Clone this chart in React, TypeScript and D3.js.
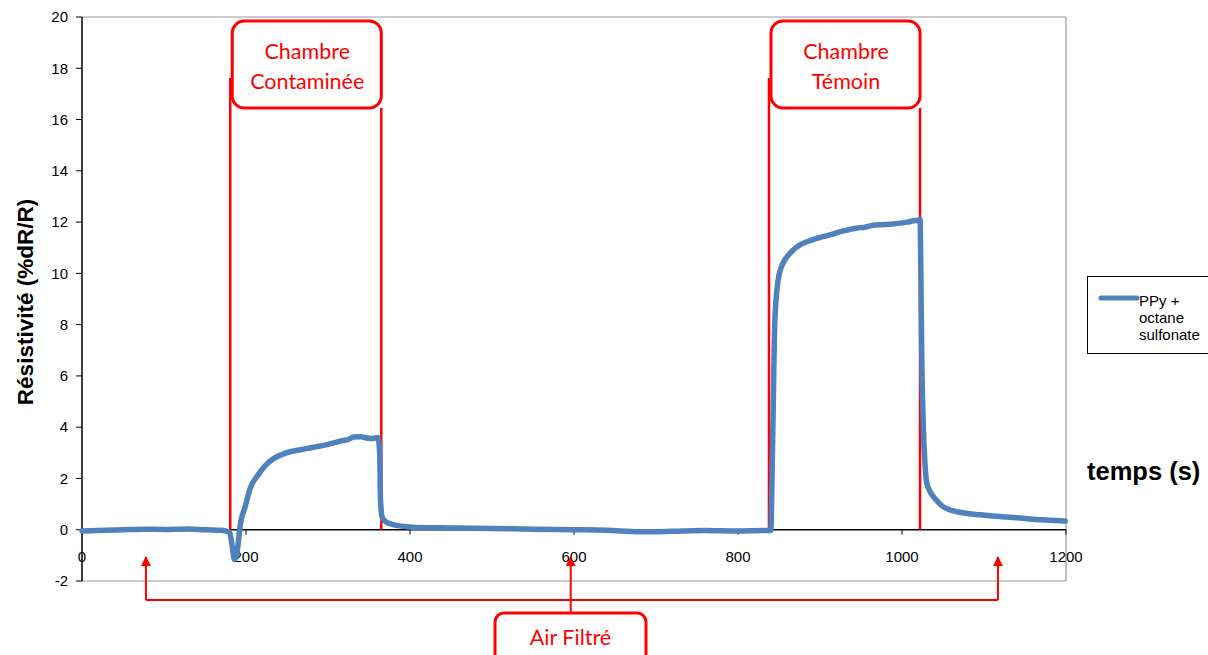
import React from "react";
import * as d3 from "d3";

const times = [0, 20, 50, 80, 100, 130, 150, 170, 180, 183, 186, 189, 193, 199, 205, 215, 225, 235, 245, 255, 266, 276, 286, 296, 306, 318, 325, 331, 340, 347, 355, 361, 363, 364, 366, 370, 375, 385, 396, 420, 449, 500, 550, 600, 640, 680, 720, 760, 800, 830, 840, 842, 845, 849, 855, 861, 867, 875, 884, 894, 904, 914, 924, 935, 945, 955, 965, 975, 985, 995, 1006, 1014, 1020, 1022, 1023, 1024, 1026, 1028, 1030, 1034, 1038, 1044, 1050, 1058, 1067, 1080, 1095, 1110, 1123, 1140, 1156, 1175, 1199];
const values = [-0.05, -0.03, 0.0, 0.02, 0.01, 0.03, 0.0, -0.02, -0.1, -0.6, -1.17, -0.9, 0.2, 0.9, 1.6, 2.15, 2.55, 2.8, 2.95, 3.05, 3.12, 3.18, 3.24, 3.3, 3.38, 3.48, 3.52, 3.62, 3.63, 3.58, 3.56, 3.6, 3.0, 1.2, 0.5, 0.32, 0.24, 0.16, 0.12, 0.08, 0.07, 0.05, 0.02, 0.0, -0.02, -0.08, -0.06, -0.03, -0.05, -0.03, -0.03, 3.0, 8.2, 9.75, 10.4, 10.7, 10.9, 11.1, 11.23, 11.35, 11.43, 11.52, 11.62, 11.7, 11.77, 11.8, 11.88, 11.9, 11.92, 11.95, 12.0, 12.05, 12.08, 12.1, 10.0, 7.0, 4.0, 2.6, 1.85, 1.5, 1.3, 1.08, 0.9, 0.78, 0.7, 0.63, 0.58, 0.54, 0.51, 0.47, 0.42, 0.38, 0.34];

const xTicks = [0, 200, 400, 600, 800, 1000, 1200];
const yTicks = [-2, 0, 2, 4, 6, 8, 10, 12, 14, 16, 18, 20];
const chambers = [
  { start: 182, end: 365, label: ["Chambre", "Contaminée"] },
  { start: 839, end: 1022, label: ["Chambre", "Témoin"] },
];
const airArrows = [78, 596, 1117];
const airLabel = "Air Filtré";
const seriesName = ["PPy +", "octane", "sulfonate"];

const W = 1208, H = 655;
const L = 82, R = 1066, T = 17, B = 581;

export default function App() {
  const x = d3.scaleLinear().domain([0, 1200]).range([L, R]);
  const y = d3.scaleLinear().domain([-2, 20]).range([B, T]);
  const data = times.map((t, i) => [t, values[i]] as [number, number]);
  const line = d3.line<[number, number]>().x(d => x(d[0])).y(d => y(d[1])).curve(d3.curveMonotoneX);
  const red = "#ff0000";
  const blue = "#4f81bd";
  const arrowY = 600;
  const redFont = "Lato, 'Open Sans', sans-serif";
  return (
    <svg width={W} height={H} style={{ position: "absolute", left: 0, top: 0 }} fontFamily="'Liberation Sans', Arial, sans-serif">
      <defs>
        <marker id="ah" viewBox="0 0 10 10" refX="9" refY="5" markerWidth="5" markerHeight="5" orient="auto">
          <path d="M0,0 L10,5 L0,10 z" fill={red} />
        </marker>
      </defs>
      <rect x={0} y={0} width={W} height={H} fill="#fff" />
      {/* plot border */}
      <line x1={L} x2={R} y1={T} y2={T} stroke="#999" strokeWidth={1.2} />
      <line x1={R} x2={R} y1={T} y2={B} stroke="#999" strokeWidth={1.2} />
      <line x1={L} x2={R} y1={B} y2={B} stroke="#999" strokeWidth={1.2} />
      {/* y axis */}
      <line x1={L} x2={L} y1={T} y2={B} stroke="#000" strokeWidth={1.5} />
      {yTicks.map(v => (
        <g key={v}>
          <line x1={L - 6} x2={L} y1={y(v)} y2={y(v)} stroke="#000" strokeWidth={1} />
          <text x={L - 14} y={y(v)} dy="0.35em" textAnchor="end" fontSize={15} fill="#000">{v}</text>
        </g>
      ))}
      {/* x axis at 0 */}
      <line x1={L} x2={R} y1={y(0)} y2={y(0)} stroke="#000" strokeWidth={1.5} />
      {xTicks.map(v => (
        <g key={v}>
          <line x1={x(v)} x2={x(v)} y1={y(0)} y2={y(0) + 5} stroke="#000" strokeWidth={1} />
          <text x={x(v)} y={y(0) + 27} dy="0.35em" textAnchor="middle" fontSize={15} fill="#000">{v}</text>
        </g>
      ))}
      {/* red chambers */}
      {chambers.map((c, i) => {
        const x1 = x(c.start), x2 = x(c.end);
        return (
          <g key={i}>
            <line x1={x1 - 1} x2={x1 - 1} y1={78} y2={y(0)} stroke={red} strokeWidth={2.5} />
            <line x1={x2} x2={x2} y1={108} y2={y(0)} stroke={red} strokeWidth={2.5} />
            <rect x={x1 + 1} y={21} width={x2 - x1 - 1} height={87} rx={12} fill="#fff" stroke={red} strokeWidth={3} />
            <text x={(x1 + x2) / 2 + 1} y={51} dy="0.35em" textAnchor="middle" fontSize={21.5} fill={red} fontFamily={redFont}>{c.label[0]}</text>
            <text x={(x1 + x2) / 2 + 1} y={81} dy="0.35em" textAnchor="middle" fontSize={21.5} fill={red} fontFamily={redFont}>{c.label[1]}</text>
          </g>
        );
      })}
      {/* data line */}
      <path d={line(data) || ""} fill="none" stroke={blue} strokeWidth={5.5} strokeLinejoin="round" strokeLinecap="round" />
      {/* air filtré arrows */}
      <line x1={x(airArrows[0])} x2={x(airArrows[2])} y1={arrowY} y2={arrowY} stroke={red} strokeWidth={2} />
      {airArrows.map((t, i) => (
        <line key={i} x1={x(t)} x2={x(t)} y1={i === 1 ? 614 : arrowY} y2={557} stroke={red} strokeWidth={2} markerEnd="url(#ah)" />
      ))}
      <rect x={495} y={613} width={151} height={52} rx={9} fill="#fff" stroke={red} strokeWidth={3} />
      <text x={570.5} y={637} dy="0.35em" textAnchor="middle" fontSize={21.5} fill={red} fontFamily={redFont}>{airLabel}</text>
      {/* axis titles */}
      <text transform={`translate(25,302) rotate(-90)`} textAnchor="middle" dy="0.35em" fontSize={22.5} fontWeight="bold" fill="#000">Résistivité (%dR/R)</text>
      <text x={1087} y={471} dy="0.35em" fontSize={25.5} fontWeight="bold" fill="#000">temps (s)</text>
      {/* legend */}
      <rect x={1087.5} y={276.5} width={125} height={77} fill="#fff" stroke="#000" strokeWidth={1} />
      <line x1={1101} x2={1137} y1={298} y2={298} stroke={blue} strokeWidth={5} strokeLinecap="round" />
      {seriesName.map((s, i) => (
        <text key={i} x={1139} y={301 + i * 17} dy="0.35em" fontSize={15} fill="#000">{s}</text>
      ))}
    </svg>
  );
}
